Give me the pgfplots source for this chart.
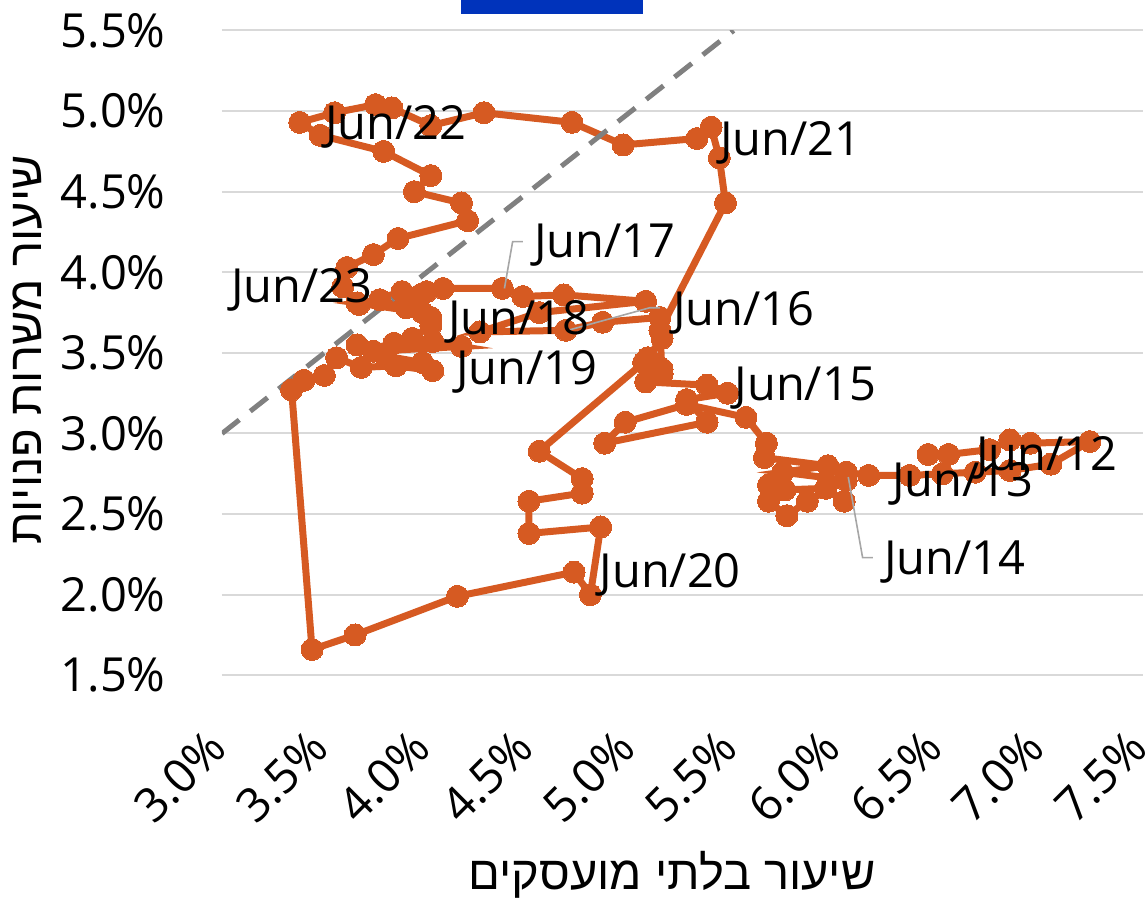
\documentclass[border=0pt]{standalone}
\usepackage{pgfplots}
\pgfplotsset{compat=1.18}
\usepackage{pgfplotstable}
\usepackage{fontspec}
\setmainfont{Open Sans}
\newfontfamily\hebfont[Script=Hebrew]{Liberation Sans}
\TeXXeTstate=1

\definecolor{bev}{HTML}{D65A22}
\definecolor{gridgray}{HTML}{D9D9D9}
\definecolor{leader}{HTML}{A6A6A6}
\definecolor{diag}{HTML}{808080}
\definecolor{topblue}{HTML}{0033BB}

\newcommand{\lab}{\fontsize{23.5}{28}\selectfont}

% unemployment rate (u) vs vacancy rate (v), monthly, percent
\pgfplotstableread{
u v
6.45 2.87
6.55 2.87
6.75 2.90
6.85 2.96
6.95 2.94
7.24 2.95
7.05 2.81
6.85 2.77
6.68 2.76
6.52 2.75
6.36 2.74
6.16 2.74
6.05 2.76
6.04 2.58
5.95 2.66
5.75 2.65
5.67 2.68
5.67 2.58
5.76 2.49
5.86 2.58
6.05 2.71
5.74 2.76
5.96 2.80
5.65 2.85
5.66 2.94
5.56 3.10
5.27 3.18
4.97 3.07
4.87 2.94
5.37 3.07
5.27 3.21
5.47 3.25
5.37 3.30
5.07 3.32
5.15 3.40
5.08 3.47
5.15 3.59
5.14 3.72
4.86 3.69
4.68 3.64
4.26 3.63
4.55 3.75
5.07 3.82
4.67 3.86
4.47 3.85
4.37 3.90
4.08 3.90
3.97 3.86
4.02 3.72
3.88 3.88
3.90 3.78
3.77 3.83
3.66 3.81
3.98 3.75
4.02 3.67
3.93 3.59
3.84 3.56
4.03 3.57
4.17 3.54
3.74 3.51
3.66 3.55
3.80 3.48
3.98 3.44
4.03 3.39
3.85 3.42
3.68 3.41
3.56 3.47
3.50 3.36
3.40 3.33
3.34 3.27
3.44 1.66
3.65 1.75
4.15 1.99
4.72 2.14
4.80 2.00
4.85 2.42
4.50 2.38
4.50 2.58
4.76 2.63
4.76 2.72
4.55 2.89
5.06 3.44
5.15 3.37
5.14 3.64
5.46 4.43
5.43 4.71
5.39 4.90
5.32 4.83
4.96 4.79
4.71 4.93
4.28 4.99
4.02 4.91
3.83 5.02
3.75 5.04
3.55 4.99
3.38 4.93
3.48 4.85
3.79 4.75
4.02 4.60
3.94 4.50
4.17 4.43
4.20 4.32
3.86 4.21
3.74 4.11
3.61 4.03
3.59 3.91
3.67 3.80
3.88 3.88
4.00 3.88
}\beveridge

\begin{document}
\begin{tikzpicture}
\begin{axis}[
    at={(0,0)}, anchor=south west,
    scale only axis,
    width=460.5pt, height=322.4pt,
    xmin=3, xmax=7.5, ymin=1.5, ymax=5.5,
    xtick={3,3.5,...,7.5},
    ytick={1.5,2,...,5.5},
    axis line style={draw=none},
    major tick length=0pt,
    ymajorgrids,
    grid style={gridgray, line width=1pt},
    ticklabel style={font=\lab},
    xticklabel={\pgfmathprintnumber[fixed,fixed zerofill,precision=1,assume math mode=true]{\tick}\%},
    yticklabel={\pgfmathprintnumber[fixed,fixed zerofill,precision=1,assume math mode=true]{\tick}\%},
    yticklabel style={anchor=east, inner sep=0pt, xshift=-28pt},
    xticklabel style={anchor=east, inner sep=0pt, xshift=-2.5pt, yshift=-32pt, rotate=45},
]
\addplot[bev, line width=3.5pt, mark=*, mark size=5.5pt,
    mark options={solid, fill=bev, draw=bev, line width=0pt}]
    table[x=u, y=v] {\beveridge};
\addplot[diag, line width=2.5pt, dash pattern=on 11pt off 7pt] coordinates {(3,3) (5.5,5.5)};

% label anchors, drawn after the axis so the text sits on top of the markers
\coordinate (j12) at (axis cs:7.03,2.85);
\coordinate (j13) at (axis cs:6.62,2.69);
\coordinate (j14) at (axis cs:6.58,2.20);
\coordinate (j15) at (axis cs:5.85,3.28);
\coordinate (j16) at (axis cs:5.55,3.75);
\coordinate (j17) at (axis cs:4.87,4.17);
\coordinate (j18) at (axis cs:4.45,3.69);
\coordinate (j19) at (axis cs:4.49,3.38);
\coordinate (j20) at (axis cs:5.19,2.12);
\coordinate (j21) at (axis cs:5.78,4.80);
\coordinate (j22) at (axis cs:3.85,4.90);
\coordinate (j23) at (axis cs:3.39,3.89);
\coordinate (a14) at (axis cs:6.06,2.73);
\coordinate (b14) at (axis cs:6.13,2.23);
\coordinate (c14) at (axis cs:6.18,2.23);
\coordinate (a17) at (axis cs:4.47,4.19);
\coordinate (b17) at (axis cs:4.42,4.19);
\coordinate (c17) at (axis cs:4.38,3.90);
\coordinate (a16) at (axis cs:5.14,3.78);
\coordinate (b16) at (axis cs:5.09,3.78);
\coordinate (c16) at (axis cs:4.69,3.64);
\end{axis}

\draw[leader, line width=0.8pt] (a14) -- (b14) -- (c14);
\draw[leader, line width=0.8pt] (a17) -- (b17) -- (c17);
\draw[leader, line width=0.8pt] (a16) -- (b16) -- (c16);

\node[font=\lab] at (j12) {Jun/12};
\node[font=\lab] at (j13) {Jun/13};
\node[font=\lab] at (j14) {Jun/14};
\node[font=\lab] at (j15) {Jun/15};
\node[font=\lab] at (j16) {Jun/16};
\node[font=\lab] at (j17) {Jun/17};
\node[font=\lab] at (j18) {Jun/18};
\node[font=\lab] at (j19) {Jun/19};
\node[font=\lab] at (j20) {Jun/20};
\node[font=\lab] at (j21) {Jun/21};
\node[font=\lab] at (j22) {Jun/22};
\node[font=\lab] at (j23) {Jun/23};

\fill[topblue] (119.5pt,330.65pt) rectangle (210.5pt,337.65pt);
\node[font={\hebfont\lab}] at (225pt,-99.85pt) {\beginR שיעור בלתי מועסקים\endR};
\node[font={\hebfont\lab}, rotate=90] at (-97pt,162.6pt) {\beginR שיעור משרות פנויות\endR};

\pgfresetboundingbox
\path (-111pt,-111.85pt) rectangle (462pt,337.65pt);
\end{tikzpicture}
\end{document}
